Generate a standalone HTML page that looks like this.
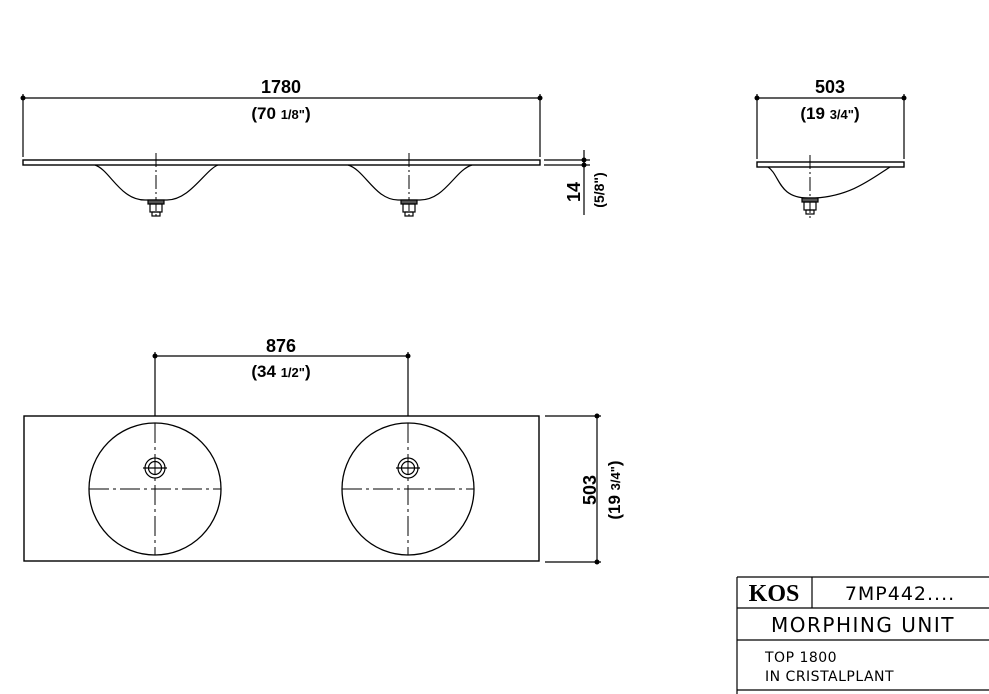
<!DOCTYPE html>
<html><head><style>
body{margin:0;background:#fff;}
svg{display:block}
text{font-family:"Liberation Sans",Arial,sans-serif;font-weight:bold;fill:#000}
.t{font-family:"DejaVu Sans","Liberation Sans",sans-serif;font-weight:normal}
</style></head><body>
<svg width="989" height="694" viewBox="0 0 989 694" xmlns="http://www.w3.org/2000/svg">
<g stroke="#000" fill="none" stroke-width="1.2">
<line x1="23" y1="98" x2="540" y2="98"/>
<line x1="23" y1="94" x2="23" y2="157"/>
<line x1="540" y1="94" x2="540" y2="157"/>
<rect x="23" y="160" width="517" height="5" stroke-width="1.4"/>
<path d="M95 165 C110 170,120 200,145 200 L167 200 C190 200,205 170,218 165" />
<path d="M348 165 C365 170,375 200,398 200 L420 200 C445 200,455 170,472 165" />
<g stroke-width="1">
<line x1="156" y1="153" x2="156" y2="218" stroke-dasharray="14,3,2,3"/>
<line x1="409" y1="153" x2="409" y2="218" stroke-dasharray="14,3,2,3"/>
</g>
<rect x="148" y="200" width="16" height="4" fill="#555"/>
<rect x="150" y="204" width="12" height="8"/>
<rect x="152" y="212" width="8" height="4"/>
<rect x="401" y="200" width="16" height="4" fill="#555"/>
<rect x="403" y="204" width="12" height="8"/>
<rect x="405" y="212" width="8" height="4"/>
<line x1="544" y1="160" x2="590" y2="160"/>
<line x1="544" y1="165" x2="590" y2="165"/>
<line x1="584" y1="150" x2="584" y2="215"/>
<line x1="757" y1="98" x2="904" y2="98"/>
<line x1="757" y1="94" x2="757" y2="159"/>
<line x1="904" y1="94" x2="904" y2="159"/>
<rect x="757" y="162" width="147" height="5" stroke-width="1.4"/>
<path d="M768 167 C780 175,778 198,808 198 L815 198 C850 196,870 180,890 167"/>
<line x1="810" y1="155" x2="810" y2="218" stroke-dasharray="14,3,2,3" stroke-width="1"/>
<rect x="802" y="198" width="16" height="4" fill="#555"/>
<rect x="804" y="202" width="12" height="8"/>
<rect x="806" y="210" width="8" height="4"/>
<line x1="155" y1="356" x2="408" y2="356"/>
<line x1="155" y1="352" x2="155" y2="416"/>
<line x1="408" y1="352" x2="408" y2="416"/>
<rect x="24" y="416" width="515" height="145" stroke-width="1.4"/>
<circle cx="155" cy="489" r="66" stroke-width="1.3"/>
<circle cx="408" cy="489" r="66" stroke-width="1.3"/>
<g stroke-width="1" stroke-dasharray="20,4,3,4">
<line x1="89" y1="489" x2="221" y2="489"/>
<line x1="342" y1="489" x2="474" y2="489"/>
<line x1="155" y1="423" x2="155" y2="555"/>
<line x1="408" y1="423" x2="408" y2="555"/>
</g>
<circle cx="155" cy="468" r="10"/><circle cx="155" cy="468" r="6.5"/>
<line x1="143" y1="468" x2="167" y2="468"/>
<circle cx="408" cy="468" r="10"/><circle cx="408" cy="468" r="6.5"/>
<line x1="396" y1="468" x2="420" y2="468"/>
<line x1="545" y1="416" x2="601" y2="416"/>
<line x1="545" y1="562" x2="601" y2="562"/>
<line x1="597" y1="416" x2="597" y2="562"/>
<path d="M737 577 H989 M737 608 H989 M737 640 H989 M737 690 H989 M737 577 V694 M812 577 V608"/>
</g>
<g fill="#000">
<circle cx="23" cy="98" r="2.5"/><circle cx="540" cy="98" r="2.5"/>
<circle cx="757" cy="98" r="2.5"/><circle cx="904" cy="98" r="2.5"/>
<circle cx="155" cy="356" r="2.5"/><circle cx="408" cy="356" r="2.5"/>
<circle cx="597" cy="416" r="2.5"/><circle cx="597" cy="562" r="2.5"/>
<circle cx="584" cy="160" r="2.5"/><circle cx="584" cy="165" r="2.5"/>
</g>
<text x="281" y="93" font-size="18" text-anchor="middle">1780</text>
<text x="281" y="119" font-size="17" text-anchor="middle">(70 <tspan font-size="13">1/8"</tspan>)</text>
<text x="830" y="93" font-size="18" text-anchor="middle">503</text>
<text x="830" y="119" font-size="17" text-anchor="middle">(19 <tspan font-size="13">3/4"</tspan>)</text>
<text x="281" y="352" font-size="18" text-anchor="middle">876</text>
<text x="281" y="377" font-size="17" text-anchor="middle">(34 <tspan font-size="13">1/2"</tspan>)</text>
<text transform="translate(580,192) rotate(-90)" font-size="18" text-anchor="middle">14</text>
<text transform="translate(604,190) rotate(-90)" font-size="14" text-anchor="middle">(5/8")</text>
<text transform="translate(596,490) rotate(-90)" font-size="18" text-anchor="middle">503</text>
<text transform="translate(620,490) rotate(-90)" font-size="17" text-anchor="middle">(19 <tspan font-size="13">3/4"</tspan>)</text>
<text x="774" y="601" font-size="24" text-anchor="middle" style="font-family:'Liberation Serif',serif;font-weight:bold">KOS</text>
<text class="t" x="900" y="600" font-size="19" text-anchor="middle" letter-spacing="1">7MP442....</text>
<text class="t" x="863" y="632" font-size="20" text-anchor="middle" letter-spacing="1.5">MORPHING UNIT</text>
<text class="t" x="765" y="662" font-size="14" letter-spacing="0.5">TOP 1800</text>
<text class="t" x="765" y="681" font-size="14" letter-spacing="0.5">IN CRISTALPLANT</text>
</svg>
</body></html>
